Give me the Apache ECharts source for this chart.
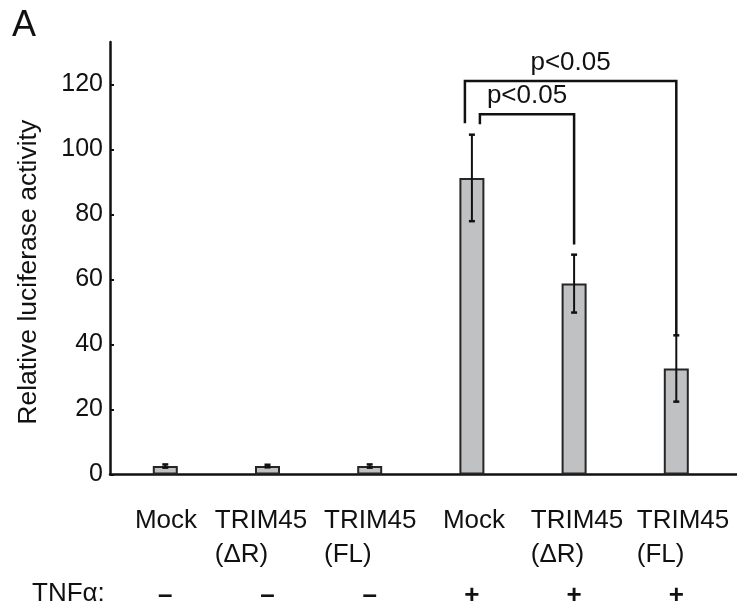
<!DOCTYPE html>
<html><head><meta charset="utf-8">
<script src="https://cdn.jsdelivr.net/npm/echarts@6/dist/echarts.min.js"></script>
<style>html,body{margin:0;padding:0;background:#fff}#c{width:737px;height:613px}</style>
</head><body><div id="c"></div>
<script>
// ---- data ----
const categories = ['Mock', 'TRIM45\n(ΔR)', 'TRIM45\n(FL)', 'Mock', 'TRIM45\n(ΔR)', 'TRIM45\n(FL)'];
const tnfSigns = ['–', '–', '–', '+', '+', '+'];
const means = [2.6, 2.6, 2.6, 91.2, 58.7, 32.6];
const errors = [0.5, 0.4, 0.5, 13.3, 8.9, 10.2];
const yTicks = [0, 20, 40, 60, 80, 100, 120];
const yMax = 133;
// significance brackets
const bracketFrom = [3, 3];
const bracketTo = [5, 4];
const bracketTop = [121.0, 110.8];
const bracketLeftEnd = [108.0, 107.7];
const bracketRightEnd = [42.8, 70.7];
const bracketLabels = ['p<0.05', 'p<0.05'];

// ---- chart ----
const FONT = "'Liberation Sans', Arial, Helvetica, sans-serif";
const INK = '#111';
const legShift = [-7, 8];               // px offsets of bracket left legs
const labelShift = [0.7, -6.5, 0.6, 2.1, 2.9, 6.7]; // px offsets of category label blocks

const errData = means.map((m, i) => [i, m, errors[i]]);
const brData = bracketFrom.map((f, i) => [f, bracketTo[i], bracketTop[i], bracketLeftEnd[i], bracketRightEnd[i], i]);

const rich = { s: { fontSize: 26, lineHeight: 48, fontWeight: 'bold', color: INK, fontFamily: FONT, align: 'center' } };
labelShift.forEach((s, i) => {
  const p = Math.abs(s) * 2;
  rich['a' + i] = { fontSize: 26, lineHeight: 34, color: INK, fontFamily: FONT, align: 'left',
    padding: s >= 0 ? [0, 0, 0, p] : [0, p, 0, 0] };
});

const chart = echarts.init(document.getElementById('c'), null, { renderer: 'canvas' });
chart.setOption({
  animation: false,
  backgroundColor: '#fff',
  textStyle: { fontFamily: FONT },
  title: [
    { text: 'A', left: 12, top: 8, padding: 0, textStyle: { fontSize: 36, fontWeight: 'normal', color: INK, fontFamily: FONT } },
    { text: 'TNFα:', left: 32, top: 581, padding: 0, textStyle: { fontSize: 26, fontWeight: 'normal', color: INK, fontFamily: FONT } }
  ],
  grid: [
    { left: 114.2, right: 9.6, top: 42, bottom: 138.5, containLabel: false, outerBoundsMode: 'none' },
    { left: 110, right: 0, top: 42, bottom: 138.5, containLabel: false, outerBoundsMode: 'none' }
  ],
  xAxis: [
    {
      type: 'category', gridIndex: 0, data: categories,
      axisLine: { show: false }, axisTick: { show: false }, splitLine: { show: false },
      axisLabel: {
        interval: 0, margin: 29.5, color: INK, fontFamily: FONT, fontSize: 26, lineHeight: 34,
        formatter: (v, i) => {
          const lines = v.split('\n');
          return '{a' + i + '|' + lines[0] + '}\n{a' + i + '|' + (lines[1] || ' ') + '}\n{s|' + tnfSigns[i] + '}';
        },
        rich: rich
      }
    },
    {
      type: 'value', gridIndex: 1, min: 0, max: 1,
      axisLine: { show: true, lineStyle: { color: INK, width: 2.5 } },
      axisTick: { show: false }, axisLabel: { show: false }, splitLine: { show: false }
    }
  ],
  yAxis: [
    { type: 'value', gridIndex: 0, min: 0, max: yMax, show: false, splitLine: { show: false } },
    {
      type: 'value', gridIndex: 1, min: 0, max: yMax,
      name: 'Relative luciferase activity', nameLocation: 'middle', nameGap: 68,
      nameTextStyle: { fontSize: 26.5, color: INK, fontFamily: FONT, padding: [0, 28, 0, 0] },
      axisLine: { show: true, lineStyle: { color: INK, width: 2.5 } },
      axisTick: { show: true, inside: true, length: 4, customValues: yTicks, lineStyle: { color: INK, width: 2 } },
      axisLabel: { customValues: yTicks, margin: 7, fontSize: 25, color: INK, fontFamily: FONT },
      splitLine: { show: false }
    }
  ],
  series: [
    {
      type: 'bar', xAxisIndex: 0, yAxisIndex: 0, data: means, barWidth: 25,
      itemStyle: { color: '#c0c1c3', borderColor: '#262626', borderWidth: 2 },
      z: 2
    },
    {
      type: 'custom', xAxisIndex: 0, yAxisIndex: 0, data: errData, z: 4,
      encode: { x: 0, y: 1 },
      renderItem: (params, api) => {
        const i = api.value(0), m = api.value(1), e = api.value(2);
        const t = api.coord([i, m + e]), b = api.coord([i, m - e]);
        const x = t[0], hw = 3;
        const st = { stroke: INK, lineWidth: 2 };
        return { type: 'group', children: [
          { type: 'line', shape: { x1: x, y1: t[1], x2: x, y2: b[1] }, style: st },
          { type: 'line', shape: { x1: x - hw, y1: t[1], x2: x + hw, y2: t[1] }, style: { stroke: INK, lineWidth: 2.5 } },
          { type: 'line', shape: { x1: x - hw, y1: b[1], x2: x + hw, y2: b[1] }, style: { stroke: INK, lineWidth: 2.5 } }
        ] };
      }
    },
    {
      type: 'custom', xAxisIndex: 0, yAxisIndex: 0, data: brData, z: 5,
      encode: { x: [0, 1], y: 2 },
      renderItem: (params, api) => {
        const f = api.value(0), t = api.value(1), top = api.value(2), le = api.value(3), re = api.value(4), k = api.value(5);
        const pT = api.coord([f, top]), pL = api.coord([f, le]);
        const qT = api.coord([t, top]), qR = api.coord([t, re]);
        const xl = pT[0] + legShift[k], xr = qT[0];
        const st = { stroke: INK, lineWidth: 2.5, fill: null };
        return { type: 'group', children: [
          { type: 'polyline', shape: { points: [[xl, pL[1]], [xl, pT[1]], [xr, qT[1]], [xr, qR[1]]] }, style: st },
          { type: 'text', style: { text: bracketLabels[k], x: (xl + xr) / 2, y: pT[1] - 18, align: 'center', verticalAlign: 'middle',
            fontSize: 26, fontFamily: FONT, fill: INK } }
        ] };
      }
    }
  ]
});
</script>
</body></html>
